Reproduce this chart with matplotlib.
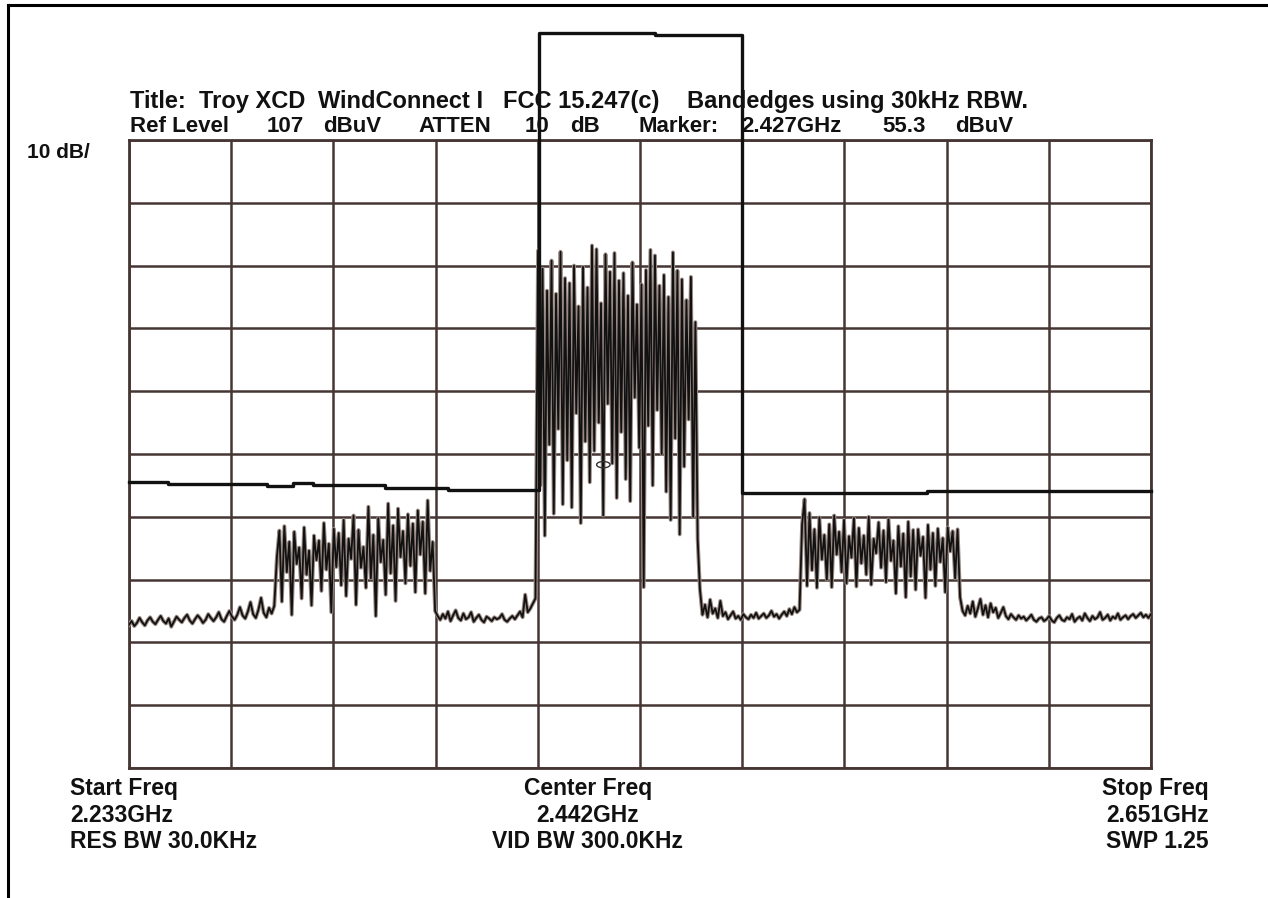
import numpy as np
import matplotlib.pyplot as plt
from matplotlib.patches import Ellipse
from matplotlib.lines import Line2D

# Analyzer settings (GHz, dBuV)
startFreq = 2.233
stopFreq = 2.651
refLevel = 107
dbPerDiv = 10

# Frequencies where the trace changes character (floor / hopping band)
segEdges = [2.233, 2.2935, 2.3582, 2.4003, 2.4665, 2.5083, 2.5729, 2.651]

# Trace values per segment (dBuV)
floorLeft = [29.8, 30.4, 29.6, 30.1, 30.9, 30.2, 29.7, 30.5, 31.0, 30.3, 29.9, 30.6, 31.2, 30.4,
             30.0, 30.8, 29.5, 30.3, 31.1, 30.6, 30.2, 30.9, 31.4, 30.5, 30.0, 30.7, 31.3, 30.8,
             30.1, 30.6, 31.5, 30.9, 30.4, 31.0, 31.8, 30.7, 30.3, 31.2, 32.0, 31.1, 30.6, 31.4,
             32.6, 31.3, 30.8, 31.9, 33.4, 31.5, 30.9, 32.2, 34.1, 31.7, 31.0, 32.5, 31.6, 32.8]
bandLeft = [40.6, 44.8, 33.5, 45.5, 38.2, 43.0, 31.4, 44.6, 39.5, 42.1, 34.0, 45.3, 37.8, 41.6,
            32.9, 44.0, 40.1, 43.2, 35.2, 46.0, 38.6, 42.7, 31.8, 45.1, 39.0, 44.4, 36.1, 46.5,
            34.4, 43.5, 40.3, 47.2, 33.0, 44.9, 38.9, 42.2, 35.7, 48.6, 37.2, 44.1, 31.2, 46.8,
            39.8, 43.3, 34.6, 49.1, 38.0, 45.6, 33.6, 48.3, 40.6, 44.7, 36.4, 47.4, 39.2, 45.9,
            35.0, 48.0, 41.0, 46.2, 34.8, 49.6, 38.4, 43.0]
floorMid = [32.0, 31.2, 30.6, 31.5, 30.8, 31.9, 30.4, 31.3, 32.1, 30.9, 30.5, 31.6, 30.7, 31.0,
            31.8, 30.3, 30.9, 31.4, 30.6, 30.2, 31.1, 30.8, 30.4, 31.0, 30.7, 30.9, 31.5, 30.6,
            30.3, 30.8, 31.2, 30.7, 31.3, 31.9, 31.0, 34.6, 31.8, 32.4, 33.2, 34.0]
bandCenter = [89.4, 52.0, 86.5, 44.0, 83.0, 58.5, 87.8, 47.5, 82.5, 61.0, 89.2, 49.0, 85.0, 56.0,
              84.2, 48.5, 87.0, 63.5, 80.5, 46.0, 86.8, 59.0, 83.5, 52.5, 90.2, 57.5, 89.6, 62.0,
              81.0, 47.2, 88.8, 65.0, 86.0, 55.5, 89.0, 50.0, 84.6, 60.5, 85.8, 53.0, 82.2, 49.5,
              87.5, 66.0, 80.8, 58.0, 84.0, 35.8, 86.3, 61.5, 89.5, 52.0, 88.6, 64.0, 83.8, 57.0,
              85.5, 51.0, 82.0, 46.5, 89.1, 59.5, 86.2, 44.2, 84.8, 55.0, 81.5, 62.5, 85.2, 47.0,
              78.0, 43.5]
floorMid2 = [35.5, 31.4, 33.0, 31.0, 33.8, 31.6, 32.4, 30.9, 33.6, 31.2, 31.8, 30.7, 31.3, 31.9,
             30.8, 31.2, 30.6, 31.5, 31.0, 30.7, 31.4, 30.9, 31.7, 30.8, 31.2, 31.6, 30.9, 31.3,
             32.0, 31.1, 31.5, 30.8, 31.4, 31.9, 31.2, 32.3, 31.5, 32.6, 31.8, 32.2]
bandRight = [45.8, 49.8, 36.0, 47.6, 38.5, 45.0, 35.7, 46.9, 40.2, 44.1, 37.0, 45.8, 35.8, 47.2,
             41.0, 44.6, 38.2, 46.5, 36.4, 43.9, 40.5, 46.8, 35.9, 45.2, 39.6, 44.0, 37.8, 47.0,
             36.2, 43.5, 41.2, 46.1, 38.9, 44.8, 36.6, 46.6, 40.0, 43.2, 34.8, 45.5, 39.1, 44.3,
             34.2, 46.2, 37.5, 44.9, 35.4, 45.0, 40.8, 43.8, 34.1, 45.7, 38.6, 44.4, 36.0, 45.1,
             39.8, 43.6, 35.0, 45.3, 41.5, 44.7, 37.2, 45.0]
floorRight = [34.2, 32.0, 31.3, 32.8, 31.6, 33.5, 31.1, 32.4, 33.9, 31.4, 32.9, 31.0, 33.2, 31.8,
              32.5, 30.9, 31.7, 32.6, 31.2, 30.7, 31.5, 31.0, 30.6, 31.3, 30.8, 31.1, 30.5, 30.9,
              31.4, 30.6, 30.3, 30.8, 31.0, 30.4, 30.7, 31.2, 30.5, 30.2, 30.9, 31.3, 30.6, 30.4,
              31.0, 30.7, 31.5, 30.3, 30.8, 31.1, 30.5, 31.6, 30.9, 30.4, 31.2, 30.7, 31.0, 31.8,
              30.6, 30.9, 31.4, 30.5, 31.1, 30.8, 31.6, 30.6, 31.0, 31.3, 30.7, 31.2, 31.5, 30.9,
              31.3, 31.7, 31.0, 31.4, 30.9, 31.5]

# FCC limit line (steps)
limitFreq = [2.233, 2.249, 2.2894, 2.300, 2.3082, 2.3377, 2.3634, 2.4007, 2.4481, 2.4837, 2.5594, 2.651]
limitLevel = [52.6, 52.3, 51.9, 52.4, 52.1, 51.6, 51.3, 124.0, 123.7, 50.8, 51.1, 51.1]

# Marker
markerFreq = 2.427
markerLevel = 55.3

segments = [floorLeft, bandLeft, floorMid, bandCenter, floorMid2, bandRight, floorRight]
freqs = []
levels = []
for i, seg in enumerate(segments):
    last = i == len(segments) - 1
    freqs.append(np.linspace(segEdges[i], segEdges[i + 1], len(seg), endpoint=last))
    levels.append(np.array(seg))
freqs = np.concatenate(freqs)
levels = np.concatenate(levels)

W, H = 1268, 898
fig = plt.figure(figsize=(W / 100, H / 100), dpi=100)
ax = fig.add_axes([129 / W, 1 - 768 / H, (1151 - 129) / W, (768 - 140) / H])

gridCol = "#453633"
ax.set_xlim(startFreq, stopFreq)
ax.set_ylim(refLevel - 10 * dbPerDiv, refLevel)
ax.set_xticks(np.linspace(startFreq, stopFreq, 11))
ax.set_yticks(np.arange(refLevel - 10 * dbPerDiv, refLevel + 1, dbPerDiv))
ax.tick_params(length=0, labelbottom=False, labelleft=False)
ax.grid(True, color=gridCol, lw=1.8)
for s in ax.spines.values():
    s.set_color(gridCol)
    s.set_linewidth(2.0)

# trace: brownish halo under a black line
ax.plot(freqs, levels, color="#9a8a84", lw=2.8, zorder=3)
ax.plot(freqs, levels, color="#111111", lw=1.3, zorder=4)

# limit line
ax.plot(limitFreq, limitLevel, drawstyle="steps-post", color="#111111", lw=2.4,
        clip_on=False, zorder=5)

ax.add_patch(Ellipse((markerFreq, markerLevel), 0.0055, 1.0, fill=False,
                     edgecolor="#333333", lw=1.0, zorder=6))

# Outer frame (top and left only)
fig.add_artist(Line2D([8 / W, 1], [1 - 5 / H, 1 - 5 / H], color="black", lw=2.2))
fig.add_artist(Line2D([8 / W, 8 / W], [0, 1 - 5 / H], color="black", lw=2.2))

font = dict(family="Liberation Sans", fontweight="bold", color="#111111")

def put(px, py, s, ha="left", size=16):
    fig.text(px / W, 1 - py / H, s, ha=ha, va="baseline", fontsize=size, **font)

titleParts = [(130, "Title:  Troy XCD"), (318, "WindConnect I"), (503, "FCC 15.247(c)"),
              (687, "Bandedges using 30kHz RBW.")]
for px, s in titleParts:
    put(px, 108, s, size=17)
refItems = [(130, "Ref Level"), (267, "107"), (323, "dBuV"), (418, "ATTEN"), (525, "10"),
            (570, "dB"), (638, "Marker:"), (741, "2.427GHz"), (882, "55.3"), (955, "dBuV")]
for px, s in refItems:
    put(px, 132, s)
put(27, 158, "10 dB/", size=15)

put(70, 795, "Start Freq", size=16.5)
put(70, 822, "2.233GHz", size=16.5)
put(70, 848, "RES BW 30.0KHz", size=16.5)
put(588, 795, "Center Freq", ha="center", size=16.5)
put(588, 822, "2.442GHz", ha="center", size=16.5)
put(588, 848, "VID BW 300.0KHz", ha="center", size=16.5)
put(1209, 795, "Stop Freq", ha="right", size=16.5)
put(1209, 822, "2.651GHz", ha="right", size=16.5)
put(1209, 848, "SWP 1.25", ha="right", size=16.5)

fig.savefig("out.png", dpi=100, facecolor="white")
